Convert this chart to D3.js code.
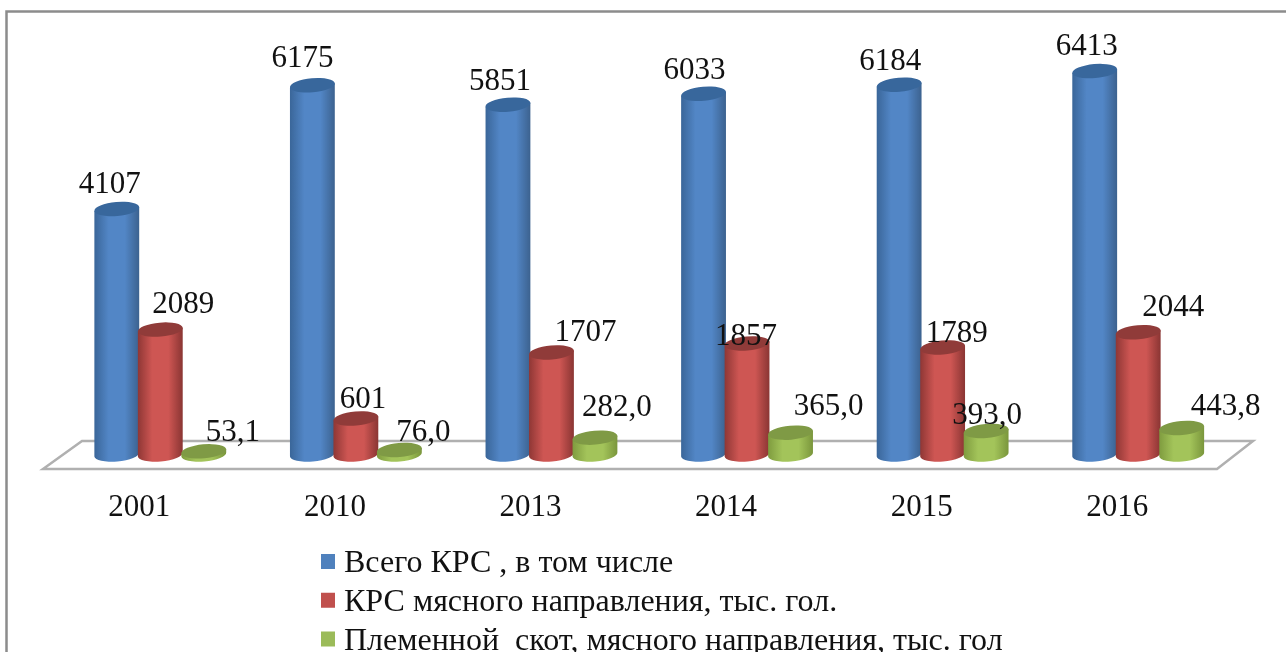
<!DOCTYPE html>
<html>
<head>
<meta charset="utf-8">
<script src="https://cdn.jsdelivr.net/npm/d3@7"></script>
<style>
    html, body { margin: 0; background: #fff; overflow: hidden; }
    svg { display: block; font-family: "Liberation Serif", serif; filter: blur(0.6px); }
</style>
</head>
<body>
<script>
    const years = ["2001", "2010", "2013", "2014", "2015", "2016"];
    const seriesNames = [
        "Всего КРС , в том числе",
        "КРС мясного направления, тыс. гол.",
        "Племенной  скот, мясного направления, тыс. гол"
    ];
    const total = [4107, 6175, 5851, 6033, 6184, 6413];
    const meat = [2089, 601, 1707, 1857, 1789, 2044];
    const breeding = [53.1, 76.0, 282.0, 365.0, 393.0, 443.8];

    const width = 1286, height = 652;
    const seriesValues = [total, meat, breeding];
    const comma = d3.formatLocale({decimal: ",", thousands: "", grouping: [3], currency: ["", ""]});
    const labelFormat = [d3.format("d"), d3.format("d"), comma.format(".1f")];

    // colours: edge, middle, right edge, top
    const colours = [
        {edge: "#3a6699", mid: "#5286c6", right: "#3c628f", top: "#38679c", flat: "#4f81bd"},
        {edge: "#8f3735", mid: "#ce5653", right: "#8a3533", top: "#903b39", flat: "#c0504d"},
        {edge: "#7f9c3f", mid: "#a3c45a", right: "#7a963c", top: "#7f9a45", flat: "#9bbb59"}
    ];

    // labels were moved by hand in the original chart, [dx, dy] from the bar top
    const labelNudge = [
        [[-7, -16], [-10, -18], [-8, -15], [-9, -15], [-9, -15], [-8, -16]],
        [[23, -17], [7, -11], [34, -11], [-1, 2], [14, -6], [35, -16]],
        [[29, -10], [24, -9], [22, -22], [38, -18], [1, -7], [44, -13]]
    ];

    const svg = d3.select("body").append("svg")
        .attr("width", width)
        .attr("height", height);

    const x = d3.scaleBand().domain(years).range([41.5, 1215]);
    const x1 = d3.scalePoint().domain(d3.range(3)).range([-43.5, 43.5]);
    const y = d3.scaleLinear().domain([0, 7000]).range([454.5, 36]);
    const depthShift = 21;
    const rx = 22.5, ry = 7, tilt = 5;

    const defs = svg.append("defs");
    colours.forEach((c, i) => {
        const grad = defs.append("linearGradient").attr("id", "cyl" + i);
        grad.append("stop").attr("offset", "0").attr("stop-color", c.edge);
        grad.append("stop").attr("offset", "0.32").attr("stop-color", c.mid);
        grad.append("stop").attr("offset", "0.68").attr("stop-color", c.mid);
        grad.append("stop").attr("offset", "1").attr("stop-color", c.right);
    });

    // frame, only top and left are inside the crop
    svg.append("path")
        .attr("d", `M6.5,${height}V11.5H${width}`)
        .attr("fill", "none")
        .attr("stroke", "#8c8c8c")
        .attr("stroke-width", 2.5);

    // floor
    const front = y(0) + 14.5, back = y(0) - 13.5;
    svg.append("polygon")
        .attr("points", [
            [x.range()[0] + 1.5, front], [x.range()[0] + 40.5, back],
            [x.range()[1] + 38, back], [x.range()[1] + 2, front]
        ].join(" "))
        .attr("fill", "#fff")
        .attr("stroke", "#b0b0b0")
        .attr("stroke-width", 2.5);

    // year labels
    const axis = svg.append("g")
        .attr("transform", `translate(0,${y(0)})`)
        .call(d3.axisBottom(x).tickSize(0).tickPadding(39));
    axis.select(".domain").remove();
    axis.selectAll("text")
        .attr("fill", "#111")
        .style("font-family", "Liberation Serif")
        .style("font-size", "31px");

    const ca = Math.cos(tilt * Math.PI / 180) * rx;
    const sa = Math.sin(tilt * Math.PI / 180) * rx;

    function cylinder(cx, yTop, yBase) {
        return `M${cx - ca},${yTop + sa}` +
            `V${yBase + sa}` +
            `A${rx},${ry} ${-tilt} 0 0 ${cx + ca},${yBase - sa}` +
            `V${yTop - sa}Z`;
    }
    function topCap(cx, yTop) {
        return `M${cx - ca},${yTop + sa}` +
            `A${rx},${ry} ${-tilt} 1 1 ${cx + ca},${yTop - sa}` +
            `A${rx},${ry} ${-tilt} 1 1 ${cx - ca},${yTop + sa}Z`;
    }

    const barX = (i, s) => x(years[i]) + x.bandwidth() / 2 + x1(s) + depthShift;

    const groups = svg.append("g").selectAll("g")
        .data(years)
        .join("g");

    groups.each(function(yr, i) {
        const g = d3.select(this);
        seriesValues.forEach((vals, s) => {
            const cx = barX(i, s), top = y(vals[i]);
            g.append("path")
                .attr("d", cylinder(cx, top, y(0)))
                .attr("fill", `url(#cyl${s})`);
            g.append("path")
                .attr("d", topCap(cx, top))
                .attr("fill", colours[s].top);
        });
    });

    // value labels on top of all bars
    seriesValues.forEach((vals, s) => {
        svg.append("g").selectAll("text")
            .data(vals)
            .join("text")
            .attr("x", (d, i) => barX(i, s) + labelNudge[s][i][0])
            .attr("y", (d, i) => y(d) + labelNudge[s][i][1])
            .attr("text-anchor", "middle")
            .attr("fill", "#111")
            .style("font-size", "31px")
            .text(d => labelFormat[s](d));
    });

    // legend
    const legendY = d3.scalePoint().domain(d3.range(3)).range([572, 649.5]);
    const legend = svg.append("g").selectAll("g")
        .data(seriesNames)
        .join("g")
        .attr("transform", (d, i) => `translate(321,${legendY(i)})`);
    legend.append("rect")
        .attr("y", -18)
        .attr("width", 14)
        .attr("height", 15)
        .attr("fill", (d, i) => colours[i].flat);
    legend.append("text")
        .attr("x", 23)
        .attr("fill", "#111")
        .style("font-size", "32px")
        .style("white-space", "pre")
        .text(d => d);
</script>
</body>
</html>
